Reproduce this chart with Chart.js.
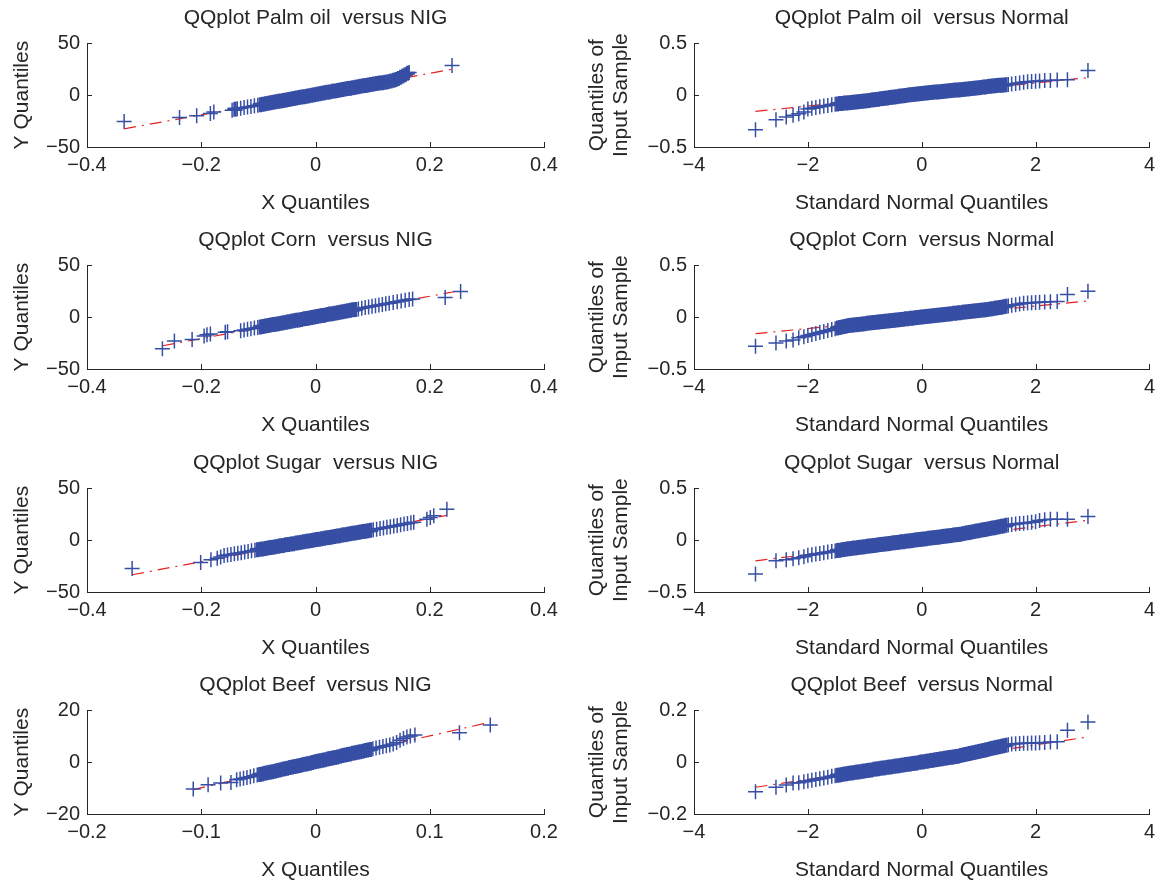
<!DOCTYPE html>
<html>
<head>
<meta charset="utf-8">
<script src="https://cdn.jsdelivr.net/npm/chart.js@4"></script>
<style>
  html, body { margin: 0; padding: 0; background: #fff; overflow: hidden; }
  body { position: relative; width: 1161px; height: 881px; }
  canvas { position: absolute; }
</style>
</head>
<body>
<canvas id="c0" width="580" height="220" style="left:0;top:0"></canvas>
<canvas id="c1" width="581" height="220" style="left:580px;top:0"></canvas>
<canvas id="c2" width="580" height="220" style="left:0;top:222px"></canvas>
<canvas id="c3" width="581" height="220" style="left:580px;top:222px"></canvas>
<canvas id="c4" width="580" height="220" style="left:0;top:445px"></canvas>
<canvas id="c5" width="581" height="220" style="left:580px;top:445px"></canvas>
<canvas id="c6" width="580" height="220" style="left:0;top:667px"></canvas>
<canvas id="c7" width="581" height="220" style="left:580px;top:667px"></canvas>
<script>
const commodities = ['Palm oil', 'Corn', 'Sugar', 'Beef']

// tick values
const nigTicksX = [-0.4, -0.2, 0, 0.2, 0.4]
const nigTicksY = [-50, 0, 50]
const beefNigTicksX = [-0.2, -0.1, 0, 0.1, 0.2]
const beefNigTicksY = [-20, 0, 20]
const normTicksX = [-4, -2, 0, 2, 4]
const normTicksY = [-0.5, 0, 0.5]
const beefNormTicksY = [-0.2, 0, 0.2]

// QQ points vs NIG
const palmNigX = [-0.335, -0.238, -0.208, -0.184, -0.178, -0.146, -0.141, -0.137, -0.131, -0.125, -0.119, -0.113, -0.107, -0.101,
  -0.0965, -0.092, -0.0875, -0.083, -0.0785, -0.074, -0.0695, -0.065, -0.0605, -0.056, -0.0515, -0.047, -0.0425, -0.038, -0.0335,
  -0.029, -0.0245, -0.02, -0.0155, -0.011, -0.0065, -0.002, 0.0025, 0.007, 0.0115, 0.016, 0.0205, 0.025, 0.0295, 0.034, 0.0385,
  0.043, 0.0475, 0.052, 0.0565, 0.061, 0.0655, 0.07, 0.0745, 0.079, 0.0835, 0.088, 0.0925, 0.097,
  0.102, 0.107, 0.112, 0.117, 0.122, 0.127, 0.132, 0.137, 0.141, 0.145, 0.149, 0.153, 0.157, 0.161, 0.164, 0.239]
const palmNigY = [-25.4, -21.5, -20.0, -17.8, -16.4, -14.5, -13.7, -13.1, -12.6, -12.0, -11.5, -10.9, -10.3, -9.7,
  -9.2, -8.8, -8.3, -7.9, -7.4, -7.0, -6.5, -6.0, -5.6, -5.1, -4.7, -4.2, -3.8, -3.3, -2.9,
  -2.4, -1.9, -1.5, -1.0, -0.6, -0.1, 0.4, 0.8, 1.3, 1.7, 2.2, 2.7, 3.1, 3.6, 4.0, 4.5,
  4.9, 5.4, 5.8, 6.3, 6.7, 7.1, 7.6, 8.0, 8.5, 8.9, 9.3, 9.8, 10.2,
  10.7, 11.1, 11.6, 12.0, 12.5, 12.9, 13.5, 14.2, 15.0, 16.0, 17.1, 18.3, 19.6, 21.0, 21.8, 28.6]
const palmNigLineX = [-0.335, 0.239]
const palmNigLineY = [-32.5, 24.9]

const cornNigX = [-0.268, -0.247, -0.216, -0.195, -0.190, -0.184, -0.158, -0.154, -0.131, -0.125, -0.119, -0.113, -0.107, -0.101,
  -0.0965, -0.092, -0.0875, -0.083, -0.0785, -0.074, -0.0695, -0.065, -0.0605, -0.056, -0.0515, -0.047, -0.0425, -0.038, -0.0335,
  -0.029, -0.0245, -0.02, -0.0155, -0.011, -0.0065, -0.002, 0.0025, 0.007, 0.0115, 0.016, 0.0205, 0.025, 0.0295, 0.034, 0.0385,
  0.043, 0.0475, 0.052, 0.0565, 0.061, 0.0655, 0.07,
  0.075, 0.081, 0.087, 0.093, 0.099, 0.105, 0.111, 0.117, 0.123, 0.129, 0.136, 0.143, 0.150, 0.157, 0.164, 0.170, 0.227, 0.254]
const cornNigY = [-30.5, -23.0, -21.5, -18.3, -17.0, -16.2, -14.6, -14.0, -13.1, -12.5, -11.8, -11.2, -10.6, -10.0,
  -9.5, -9.1, -8.6, -8.2, -7.7, -7.2, -6.8, -6.3, -5.9, -5.4, -4.9, -4.5, -4.0, -3.6, -3.1,
  -2.7, -2.2, -1.7, -1.3, -0.8, -0.4, 0.1, 0.6, 1.0, 1.5, 1.9, 2.4, 2.9, 3.3, 3.8, 4.2,
  4.7, 5.1, 5.6, 6.1, 6.5, 7.0, 7.4,
  7.9, 8.5, 9.2, 9.8, 10.4, 11.0, 11.6, 12.2, 12.8, 13.4, 14.1, 14.8, 15.5, 16.2, 16.9, 17.4, 19.0, 24.7]
const cornNigLineX = [-0.268, 0.254]
const cornNigLineY = [-27.6, 25.6]

const sugarNigX = [-0.321, -0.201, -0.183, -0.172, -0.166, -0.160, -0.154, -0.148, -0.142, -0.136, -0.130, -0.124, -0.118, -0.112, -0.106,
  -0.1015, -0.097, -0.0925, -0.088, -0.0835, -0.079, -0.0745, -0.07, -0.0655, -0.061, -0.0565, -0.052, -0.0475, -0.043, -0.0385,
  -0.034, -0.0295, -0.025, -0.0205, -0.016, -0.0115, -0.007, -0.0025, 0.002, 0.0065, 0.011, 0.0155, 0.02, 0.0245, 0.029,
  0.0335, 0.038, 0.0425, 0.047, 0.0515, 0.056, 0.0605, 0.065, 0.0695, 0.074, 0.0785, 0.083, 0.0875, 0.092, 0.0965, 0.101,
  0.107, 0.113, 0.119, 0.125, 0.131, 0.137, 0.143, 0.149, 0.155, 0.161, 0.167, 0.172, 0.195, 0.201, 0.207, 0.230]
const sugarNigY = [-27.3, -21.5, -19.0, -17.5, -16.2, -14.9, -14.3, -13.8, -13.2, -12.6, -12.1, -11.5, -10.9, -10.3, -9.8,
  -9.3, -8.9, -8.5, -8.1, -7.6, -7.2, -6.8, -6.4, -5.9, -5.5, -5.1, -4.6, -4.2, -3.8, -3.4,
  -2.9, -2.5, -2.1, -1.6, -1.2, -0.8, -0.4, 0.1, 0.5, 0.9, 1.3, 1.8, 2.2, 2.6, 3.1,
  3.5, 3.9, 4.3, 4.8, 5.2, 5.6, 6.0, 6.5, 6.9, 7.3, 7.8, 8.2, 8.6, 9.0, 9.5, 9.9,
  10.5, 11.1, 11.7, 12.3, 12.9, 13.5, 14.1, 14.8, 15.4, 16.0, 16.6, 17.2, 20.2, 21.7, 23.4, 29.8]
const sugarNigLineX = [-0.321, 0.230]
const sugarNigLineY = [-33.4, 23.9]

const beefNigX = [-0.107, -0.094, -0.083, -0.074, -0.069, -0.066, -0.063, -0.060, -0.057, -0.054, -0.051,
  -0.0488, -0.0466, -0.0444, -0.0422, -0.04, -0.0378, -0.0356, -0.0334, -0.0312, -0.029,
  -0.0268, -0.0246, -0.0224, -0.0202, -0.018, -0.0158, -0.0136, -0.0114, -0.0092, -0.007,
  -0.0048, -0.0026, -0.0004, 0.0018, 0.004, 0.0062, 0.0084, 0.0106, 0.0128, 0.015,
  0.0172, 0.0194, 0.0216, 0.0238, 0.026, 0.0282, 0.0304, 0.0326, 0.0348, 0.037,
  0.0392, 0.0414, 0.0436, 0.0458, 0.048, 0.0502,
  0.053, 0.056, 0.059, 0.062, 0.065, 0.068, 0.071, 0.074, 0.077, 0.080, 0.083, 0.087, 0.126, 0.153]
const beefNigY = [-10.4, -8.7, -8.1, -7.9, -6.8, -6.5, -6.2, -5.9, -5.6, -5.3, -5.0,
  -4.8, -4.6, -4.3, -4.1, -3.9, -3.7, -3.5, -3.2, -3.0, -2.8,
  -2.6, -2.4, -2.1, -1.9, -1.7, -1.5, -1.3, -1.0, -0.8, -0.6,
  -0.4, -0.2, 0.1, 0.3, 0.5, 0.7, 0.9, 1.2, 1.4, 1.6,
  1.8, 2.0, 2.3, 2.5, 2.7, 2.9, 3.1, 3.4, 3.6, 3.8,
  4.0, 4.2, 4.5, 4.7, 4.9, 5.1,
  5.4, 5.7, 6.0, 6.3, 6.6, 7.0, 7.6, 8.4, 9.1, 9.7, 10.1, 10.4, 11.3, 14.3]
const beefNigLineX = [-0.107, 0.153]
const beefNigLineY = [-10.6, 15.4]

// standard normal quantiles, shared by the four Normal panels
const normX = [-2.92, -2.56, -2.38, -2.26, -2.16, -2.07, -2.00, -1.93, -1.86, -1.79, -1.72, -1.65, -1.58, -1.52,
  -1.48, -1.44, -1.40, -1.36, -1.32, -1.28, -1.24, -1.20, -1.16, -1.12,
  -1.08, -1.04, -1.00, -0.96, -0.92, -0.88, -0.84, -0.80, -0.76, -0.72,
  -0.68, -0.64, -0.60, -0.56, -0.52, -0.48, -0.44, -0.40, -0.36, -0.32,
  -0.28, -0.24, -0.20, -0.16, -0.12, -0.08, -0.04, 0.00, 0.04, 0.08,
  0.12, 0.16, 0.20, 0.24, 0.28, 0.32, 0.36, 0.40, 0.44, 0.48,
  0.52, 0.56, 0.60, 0.64, 0.68, 0.72, 0.76, 0.80, 0.84, 0.88,
  0.92, 0.96, 1.00, 1.04, 1.08, 1.12, 1.16, 1.20, 1.24, 1.28,
  1.32, 1.36, 1.40, 1.44, 1.48,
  1.52, 1.58, 1.65, 1.72, 1.79, 1.86, 1.93, 2.00, 2.07, 2.16, 2.26, 2.38, 2.56, 2.92]

// sample quantiles vs Normal
const palmNormY = [-0.333, -0.237, -0.210, -0.195, -0.180, -0.163, -0.135, -0.126, -0.119, -0.113, -0.106, -0.100, -0.094, -0.088,
  -0.085, -0.082, -0.080, -0.077, -0.075, -0.073, -0.071, -0.068, -0.066, -0.064,
  -0.061, -0.059, -0.057, -0.054, -0.051, -0.048, -0.045, -0.042, -0.039, -0.036,
  -0.033, -0.030, -0.027, -0.024, -0.021, -0.018, -0.015, -0.012, -0.009, -0.006,
  -0.003, 0.000, 0.003, 0.006, 0.008, 0.011, 0.013, 0.016, 0.018, 0.020,
  0.022, 0.024, 0.027, 0.029, 0.031, 0.033, 0.035, 0.037, 0.039, 0.041,
  0.044, 0.046, 0.048, 0.050, 0.052, 0.054, 0.056, 0.058, 0.061, 0.063,
  0.066, 0.069, 0.071, 0.074, 0.077, 0.079, 0.082, 0.085, 0.087, 0.090,
  0.092, 0.094, 0.096, 0.098, 0.100,
  0.102, 0.106, 0.111, 0.117, 0.124, 0.128, 0.131, 0.134, 0.137, 0.140, 0.141, 0.146, 0.147, 0.237]
const palmNormLineX = [-2.92, 2.92]
const palmNormLineY = [-0.157, 0.168]

const cornNormY = [-0.280, -0.250, -0.230, -0.220, -0.200, -0.190, -0.178, -0.167, -0.158, -0.148, -0.139, -0.129, -0.120, -0.112,
  -0.106, -0.101, -0.096, -0.090, -0.085, -0.081, -0.078, -0.076, -0.073, -0.071,
  -0.068, -0.066, -0.063, -0.060, -0.058, -0.055, -0.053, -0.050, -0.048, -0.045,
  -0.043, -0.040, -0.038, -0.035, -0.033, -0.030, -0.028, -0.025, -0.023, -0.020,
  -0.017, -0.015, -0.012, -0.010, -0.007, -0.005, -0.002, 0.000, 0.003, 0.005,
  0.008, 0.011, 0.013, 0.016, 0.018, 0.021, 0.023, 0.026, 0.028, 0.031,
  0.033, 0.036, 0.038, 0.041, 0.043, 0.046, 0.048, 0.051, 0.053, 0.056,
  0.059, 0.061, 0.064, 0.066, 0.069, 0.071, 0.074, 0.077, 0.081, 0.085,
  0.088, 0.092, 0.096, 0.100, 0.104,
  0.107, 0.113, 0.120, 0.126, 0.133, 0.137, 0.139, 0.141, 0.143, 0.145, 0.147, 0.150, 0.217, 0.250]
const cornNormLineX = [-2.92, 2.92]
const cornNormLineY = [-0.160, 0.156]

const sugarNormY = [-0.327, -0.200, -0.190, -0.180, -0.170, -0.160, -0.146, -0.140, -0.134, -0.128, -0.121, -0.115, -0.109, -0.104,
  -0.100, -0.097, -0.093, -0.090, -0.086, -0.083, -0.080, -0.077, -0.075, -0.072,
  -0.069, -0.066, -0.063, -0.060, -0.057, -0.055, -0.052, -0.049, -0.046, -0.043,
  -0.040, -0.037, -0.035, -0.032, -0.029, -0.026, -0.023, -0.020, -0.017, -0.015,
  -0.012, -0.009, -0.006, -0.003, 0.000, 0.003, 0.005, 0.008, 0.011, 0.014,
  0.017, 0.020, 0.023, 0.025, 0.028, 0.031, 0.034, 0.037, 0.040, 0.043,
  0.045, 0.048, 0.051, 0.054, 0.057, 0.061, 0.065, 0.070, 0.074, 0.078,
  0.082, 0.087, 0.091, 0.095, 0.099, 0.103, 0.108, 0.112, 0.116, 0.120,
  0.125, 0.129, 0.133, 0.137, 0.142,
  0.146, 0.151, 0.155, 0.159, 0.163, 0.167, 0.172, 0.176, 0.188, 0.196, 0.200, 0.200, 0.200, 0.227]
const sugarNormLineX = [-2.92, 2.92]
const sugarNormLineY = [-0.200, 0.191]

const beefNormY = [-0.114, -0.097, -0.088, -0.081, -0.080, -0.076, -0.073, -0.070, -0.067, -0.064, -0.061, -0.058, -0.055, -0.053,
  -0.051, -0.050, -0.048, -0.046, -0.045, -0.043, -0.042, -0.041, -0.039, -0.038,
  -0.037, -0.035, -0.034, -0.032, -0.031, -0.030, -0.028, -0.027, -0.026, -0.024,
  -0.023, -0.022, -0.020, -0.019, -0.018, -0.016, -0.015, -0.014, -0.012, -0.011,
  -0.009, -0.008, -0.007, -0.005, -0.004, -0.003, -0.001, 0.000, 0.001, 0.003,
  0.004, 0.006, 0.007, 0.009, 0.010, 0.012, 0.013, 0.015, 0.016, 0.018,
  0.019, 0.020, 0.022, 0.023, 0.025, 0.027, 0.029, 0.031, 0.033, 0.035,
  0.037, 0.039, 0.041, 0.043, 0.045, 0.047, 0.049, 0.051, 0.053, 0.055,
  0.057, 0.059, 0.061, 0.063, 0.065,
  0.067, 0.070, 0.071, 0.072, 0.073, 0.073, 0.074, 0.074, 0.075, 0.076, 0.077, 0.078, 0.123, 0.155]
const beefNormLineX = [-2.92, 2.92]
const beefNormLineY = [-0.097, 0.097]

const BLUE = 'rgb(54,78,164)'
const RED = 'rgb(232,32,32)'
const AXIS = '#262626'
const FONT = "'Liberation Sans', Arial, Helvetica, sans-serif"

Chart.defaults.font.family = FONT
Chart.defaults.color = AXIS

const zip = (xs, ys) => xs.map((x, i) => ({ x, y: ys[i] }))
const fmt = v => String(v).replace('-', '\u2212')

// thin stroke for lone markers, wider inside the dense run so the band closes
function markerStroke(ctx) {
  const xs = ctx.chart.scales.x
  const d = ctx.dataset.data
  const i = ctx.dataIndex
  if (!xs || !d[i] || i === 0 || i === d.length - 1) return 1.5
  const px = xs.getPixelForValue(d[i].x)
  const gapL = Math.abs(px - xs.getPixelForValue(d[i - 1].x))
  const gapR = Math.abs(xs.getPixelForValue(d[i + 1].x) - px)
  const gap = Math.max(gapL, gapR)
  return gap < 3 ? Math.min(3.4, gap + 0.8) : 1.5
}

// matlab style ticks pointing into the axes
const innerTicks = {
  id: 'innerTicks',
  beforeDatasetsDraw(chart) {
    const { ctx, chartArea: a, scales: { x, y } } = chart
    ctx.save()
    ctx.strokeStyle = AXIS
    ctx.lineWidth = 1
    ctx.beginPath()
    x.ticks.forEach(t => {
      const px = Math.round(x.getPixelForValue(t.value)) + 0.5
      ctx.moveTo(px, a.bottom)
      ctx.lineTo(px, a.bottom - 5)
    })
    y.ticks.forEach(t => {
      const py = Math.round(y.getPixelForValue(t.value)) + 0.5
      ctx.moveTo(a.left, py)
      ctx.lineTo(a.left + 5, py)
    })
    ctx.stroke()
    ctx.restore()
  }
}

function makePanel(id, opts) {
  const left = opts.side === 'left'
  return new Chart(document.getElementById(id), {
    type: 'scatter',
    data: {
      datasets: [
        {
          data: zip(opts.xs, opts.ys),
          pointStyle: 'cross',
          pointRadius: 7.5,
          pointHoverRadius: 7.5,
          borderWidth: 1.5,
          pointBorderWidth: markerStroke,
          borderColor: BLUE,
          backgroundColor: BLUE
        },
        {
          type: 'line',
          data: zip(opts.lineX, opts.lineY),
          borderColor: RED,
          borderWidth: 1.2,
          borderDash: [12, 6, 2, 6],
          pointRadius: 0,
          fill: false
        }
      ]
    },
    options: {
      animation: false,
      responsive: false,
      events: [],
      layout: { padding: { left: 0, right: left ? 36 : 9, top: 0, bottom: 0 } },
      plugins: {
        legend: { display: false },
        tooltip: { enabled: false },
        title: {
          display: true,
          text: opts.title,
          fullSize: false,
          color: AXIS,
          font: { size: 21, weight: 'normal' },
          padding: { top: 6, bottom: 12 }
        }
      },
      scales: {
        x: {
          type: 'linear',
          min: opts.xTicks[0],
          max: opts.xTicks[opts.xTicks.length - 1],
          afterBuildTicks: s => { s.ticks = opts.xTicks.map(v => ({ value: v })) },
          afterFit: s => { s.height = 73 },
          grid: { display: false, drawTicks: false },
          border: { display: true, color: AXIS, width: 1 },
          ticks: { autoSkip: false, maxRotation: 0, padding: 6, font: { size: 20 }, color: AXIS, callback: v => fmt(v) },
          title: { display: true, text: opts.xTitle, color: AXIS, font: { size: 21, lineHeight: 1.15 }, padding: { top: 0, bottom: 5 } }
        },
        y: {
          type: 'linear',
          min: opts.yTicks[0],
          max: opts.yTicks[opts.yTicks.length - 1],
          afterBuildTicks: s => { s.ticks = opts.yTicks.map(v => ({ value: v })) },
          afterFit: s => { s.width = left ? 87 : 114 },
          grid: { display: false, drawTicks: false },
          border: { display: true, color: AXIS, width: 1 },
          ticks: { autoSkip: false, padding: 7, font: { size: 20 }, color: AXIS, callback: v => fmt(v) },
          title: { display: true, text: opts.yTitle, color: AXIS, font: { size: 21, lineHeight: 1.15 }, padding: { top: left ? 10 : 5, bottom: 0 } }
        }
      }
    },
    plugins: [innerTicks]
  })
}

const nigSets = [
  [palmNigX, palmNigY, palmNigLineX, palmNigLineY, nigTicksX, nigTicksY],
  [cornNigX, cornNigY, cornNigLineX, cornNigLineY, nigTicksX, nigTicksY],
  [sugarNigX, sugarNigY, sugarNigLineX, sugarNigLineY, nigTicksX, nigTicksY],
  [beefNigX, beefNigY, beefNigLineX, beefNigLineY, beefNigTicksX, beefNigTicksY]
]
const normSets = [
  [palmNormY, palmNormLineX, palmNormLineY, normTicksY],
  [cornNormY, cornNormLineX, cornNormLineY, normTicksY],
  [sugarNormY, sugarNormLineX, sugarNormLineY, normTicksY],
  [beefNormY, beefNormLineX, beefNormLineY, beefNormTicksY]
]

commodities.forEach((name, i) => {
  const n = nigSets[i]
  makePanel('c' + (i * 2), {
    side: 'left',
    title: 'QQplot ' + name + '  versus NIG',
    xTitle: 'X Quantiles',
    yTitle: 'Y Quantiles',
    xs: n[0], ys: n[1], lineX: n[2], lineY: n[3], xTicks: n[4], yTicks: n[5]
  })
  const m = normSets[i]
  makePanel('c' + (i * 2 + 1), {
    side: 'right',
    title: 'QQplot ' + name + '  versus Normal',
    xTitle: 'Standard Normal Quantiles',
    yTitle: ['Quantiles of', 'Input Sample'],
    xs: normX, ys: m[0], lineX: m[1], lineY: m[2], xTicks: normTicksX, yTicks: m[3]
  })
})
</script>
</body>
</html>
